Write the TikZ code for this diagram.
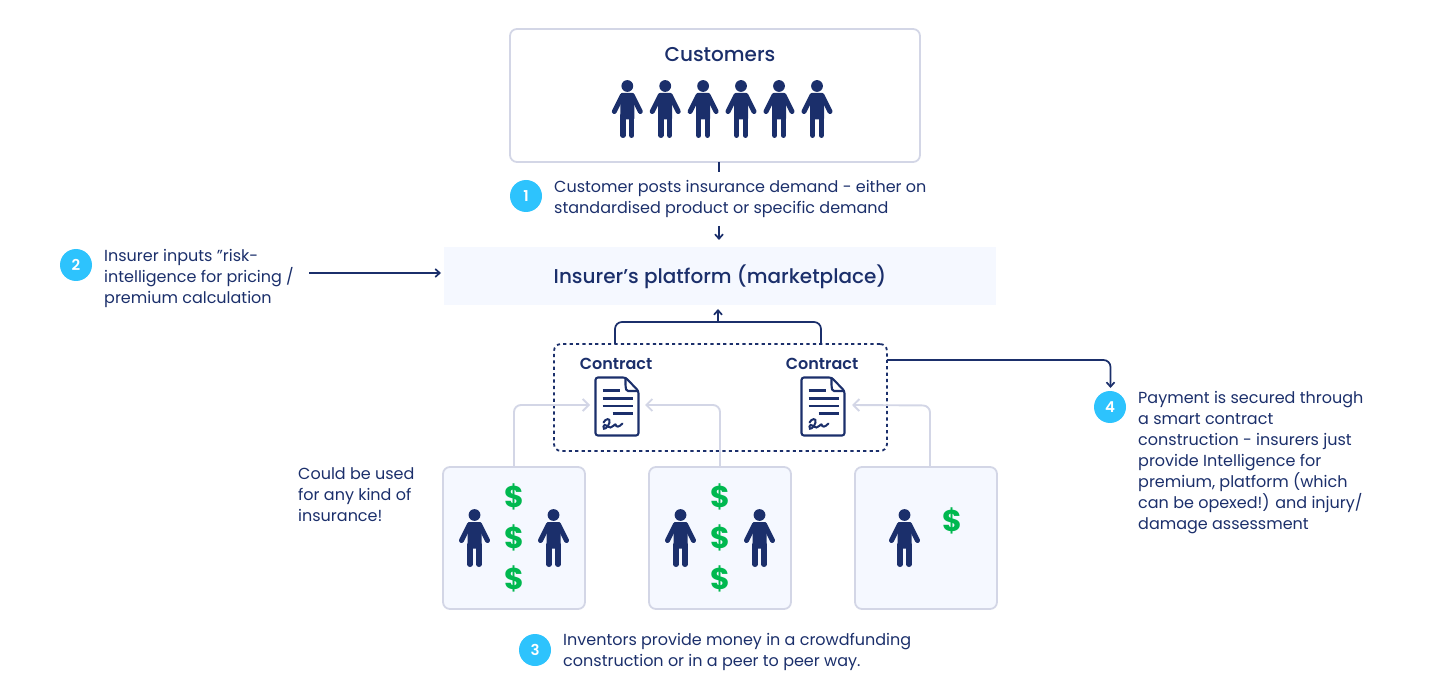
\documentclass[tikz,border=0pt]{standalone}
\usepackage{fontspec}
\setmainfont{Poppins}
\newfontfamily\popm{Poppins Medium}
\newfontfamily\pops{Poppins SemiBold}
\newfontfamily\popb{Poppins Bold}
\usetikzlibrary{arrows.meta}
\definecolor{navy}{HTML}{1B2F6B}
\definecolor{greyl}{HTML}{D3D6E6}
\definecolor{panel}{HTML}{F5F8FF}
\definecolor{cyanb}{HTML}{2DC3FD}
\definecolor{moneyg}{HTML}{00B84F}
\newcommand\personicon[2]{%
 \begin{scope}[shift={(#1,#2)}]
 \fill[navy] (0,-21.5) circle (5.9);
 \fill[navy,rounded corners=1] (-6.4,-14.5)--(6.4,-14.5)--(7,-6)--(7,12)--(-7,12)--(-7,-6)--cycle;
 \draw[navy,line width=5,line cap=round] (-5,-12)--(-13,4) (5,-12)--(13,4);
 \draw[navy,line width=5.4,line cap=round] (-4.4,8)--(-4.4,27.8) (4.4,8)--(4.4,27.8);
 \end{scope}}
\newcommand\docicon[2]{%
 \begin{scope}[shift={(#1,#2)}]
 \draw[navy,line width=2.1,rounded corners=2.5] (0,0)--(30,0)--(43,13.5)--(43,58)--(0,58)--cycle;
 \draw[navy,line width=2.1,rounded corners=1.5] (30,0)--(30,9)--(31,13.5)--(43,13.5);
 \draw[navy,line width=2.1] (7,13)--(24,13) (7,21)--(37,21) (7,28.5)--(37,28.5) (17,36)--(37,36);
 \draw[navy,line width=2,line cap=round] (8,45) .. controls (10,41) and (15,40) .. (14,45) .. controls (13,50) and (7,54) .. (8,49) .. controls (9,45) and (12,50) .. (15,50) .. controls (18,50) and (19,46) .. (20,47) .. controls (21,50) and (23,50) .. (27,46);
 \end{scope}}
\tikzset{
 x=1pt,y=-1pt,
 txt/.style={text=navy,font=\fontsize{16}{21}\selectfont,align=left,anchor=north west,inner sep=0pt,text depth=0pt},
 boxn/.style={draw=greyl,line width=1.8,rounded corners=7,inner sep=0pt},
 lowbox/.style={boxn,fill=panel,minimum width=142,minimum height=142},
 badge/.style={circle,fill=cyanb,minimum size=32,inner sep=0pt,text=white,font=\pops\fontsize{15}{15}\selectfont},
 dollar/.style={text=moneyg,font=\popb\fontsize{30}{30}\selectfont,inner sep=0pt},
 navyline/.style={draw=navy,line width=1.7},
 greyline/.style={draw=greyl,line width=1.9,rounded corners=7},
 navytip/.style={-{Straight Barb[length=4.5,width=8,line width=1.7]}},
 greytip/.style={-{Straight Barb[length=6,width=12,line width=1.9]}},
 contr/.style={text=navy,font=\pops\fontsize{16}{16}\selectfont},
}
\begin{document}
\begin{tikzpicture}
\useasboundingbox (0,0) rectangle (1440,700);
% boxes
\node[boxn,minimum width=410,minimum height=133] (cust) at (715,95.5) {};
\node[text=navy,font=\popm\fontsize{20}{20}\selectfont] (custt) at (720,54.5) {Customers};
\node[fill=panel,minimum width=552,minimum height=58,inner sep=0pt] (plat) at (720,276) {};
\node[text=navy,font=\popm\fontsize{20}{20}\selectfont] (platt) at (720,276.5) {Insurer’s platform (marketplace)};
\node[draw=navy,line width=1.8,dash pattern=on 3.2pt off 3.2pt,rounded corners=7,minimum width=333,minimum height=107,inner sep=0pt] (dash) at (720.5,397.5) {};
\node[lowbox] (b1) at (514,538) {};
\node[lowbox] (b2) at (720,538) {};
\node[lowbox] (b3) at (926,538) {};
% people
\foreach \px in {627.3,665.2,703.1,741,779,817}{\personicon{\px}{107.5}}
\personicon{474.5}{536.5}\personicon{553.5}{536.5}
\personicon{680.5}{536.5}\personicon{759.5}{536.5}
\personicon{904.5}{536.5}
% dollars
\node[dollar] (d1) at (514,497) {\$};
\node[dollar] (d2) at (514,538) {\$};
\node[dollar] (d3) at (514,579) {\$};
\node[dollar] (d4) at (720.5,497) {\$};
\node[dollar] (d5) at (720.5,538) {\$};
\node[dollar] (d6) at (720.5,579) {\$};
\node[dollar] (d7) at (952,521) {\$};
% contracts
\node[contr] (c1) at (616,364) {Contract};
\node[contr] (c2) at (822,364) {Contract};
\docicon{595.5}{377.5}\docicon{801.5}{377.5}
\coordinate (doc1w) at (590,405);
\coordinate (doc1e) at (645,405);
\coordinate (doc2e) at (852,405);
% badges
\node[badge] (n1) at (526,196) {1};
\node[badge] (n2) at (76,265) {2};
\node[badge] (n3) at (535,650) {3};
\node[badge] (n4) at (1110,407) {4};
% text
\node[txt] (t1) at (554,180) {Customer posts insurance demand - either on\\standardised product or specific demand};
\node[txt] (t2) at (104,249) {Insurer inputs ”risk-\\intelligence for pricing /\\premium calculation};
\node[txt] (t3) at (563,633) {Inventors provide money in a crowdfunding\\construction or in a peer to peer way.};
\node[txt] (t4) at (1138,391) {Payment is secured through\\a smart contract\\construction - insurers just\\provide Intelligence for\\premium, platform (which\\can be opexed!) and injury/\\damage assessment};
\node[txt] (t5) at (298,467) {Could be used\\for any kind of\\insurance!};
% navy connectors
\coordinate (a1) at (719,172);
\coordinate (a2) at (719,226);
\coordinate (a3) at (309,273);
\coordinate (a4) at (441,273);
\draw[navyline] (719,162) -- (a1);
\draw[navyline,navytip] (a2) -- (719,240);
\draw[navyline,navytip] (a3) -- (a4);
\draw[navyline,rounded corners=7] (615,344) -- (615,322) -- (821,322) -- (821,344);
\draw[navyline,navytip] (718,322) -- (718,309);
\draw[navyline,navytip,rounded corners=7] (887,360) -- (1110.5,360) -- (1110.5,388);
% grey connectors
\draw[greyline,greytip] (514,467) -- (514,405) -- (doc1w);
\draw[greyline,greytip] (720,467) -- (720,405) -- (doc1e);
\draw[greyline,greytip] (930,467) -- (930,405.5) -- (doc2e);
\end{tikzpicture}
\end{document}
